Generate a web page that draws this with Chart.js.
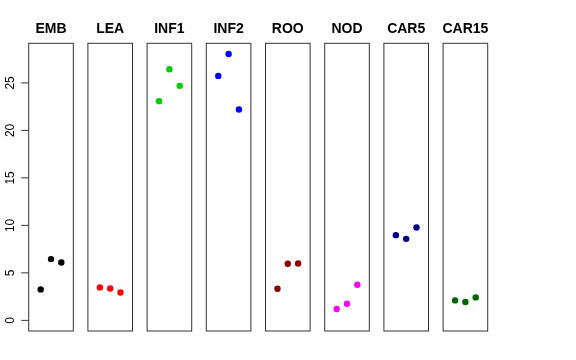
<!DOCTYPE html>
<html>
<head>
<meta charset="utf-8">
<script src="https://cdn.jsdelivr.net/npm/chart.js@4"></script>
<style>
  body { margin: 0; background: #fff; }
  #wrap { position: relative; width: 576px; height: 360px; overflow: hidden; }
  .panel { position: absolute; top: 0; height: 360px; }
</style>
</head>
<body>
<div id="wrap"></div>
<script>
const panelNames = ['EMB', 'LEA', 'INF1', 'INF2', 'ROO', 'NOD', 'CAR5', 'CAR15'];
const panelColors = ['#000000', '#FF0000', '#00CD00', '#0000FF', '#8B0000', '#FF00FF', '#00008B', '#006400'];
const replicates = [1, 2, 3];
const embValues = [3.26, 6.45, 6.09];
const leaValues = [3.47, 3.36, 2.94];
const inf1Values = [23.08, 26.44, 24.69];
const inf2Values = [25.74, 28.05, 22.2];
const rooValues = [3.33, 5.96, 5.99];
const nodValues = [1.2, 1.75, 3.75];
const car5Values = [8.97, 8.58, 9.77];
const car15Values = [2.1, 1.93, 2.42];
const yTicks = [0, 5, 10, 15, 20, 25];

const panelValues = [embValues, leaValues, inf1Values, inf2Values, rooValues, nodValues, car5Values, car15Values];

const firstLeft = 28.7;
const step = 59.2;
const boxWidth = 44.6;
const fontFamily = '"Liberation Sans", Arial, Helvetica, sans-serif';

// box, title and (for the first panel) the y axis
const panelDecor = {
    id: 'panelDecor',
    afterDraw(chart, args, opts) {
        const {ctx, chartArea} = chart;
        const yScale = chart.scales.y;
        ctx.save();
        ctx.strokeStyle = '#333';
        ctx.lineWidth = 1;
        ctx.strokeRect(chartArea.left, chartArea.top, chartArea.right - chartArea.left, chartArea.bottom - chartArea.top);

        ctx.fillStyle = '#000';
        ctx.font = 'bold 14px ' + fontFamily;
        ctx.textAlign = 'center';
        ctx.textBaseline = 'middle';
        ctx.fillText(opts.title, (chartArea.left + chartArea.right) / 2, 29);

        if (opts.showAxis) {
            ctx.font = '12px ' + fontFamily;
            ctx.textBaseline = 'alphabetic';
            yTicks.forEach(v => {
                const py = yScale.getPixelForValue(v);
                ctx.beginPath();
                ctx.moveTo(chartArea.left - 7.5, py);
                ctx.lineTo(chartArea.left, py);
                ctx.stroke();
                ctx.save();
                ctx.translate(chartArea.left - 15.2, py);
                ctx.rotate(-Math.PI / 2);
                ctx.fillText(String(v), 0, 0);
                ctx.restore();
            });
        }
        ctx.restore();
    }
};

const wrap = document.querySelector('#wrap');
panelNames.forEach((name, i) => {
    const boxLeft = firstLeft + i * step;
    const canvasLeft = i === 0 ? 0 : Math.floor(boxLeft) - 8;
    const canvasWidth = Math.ceil(boxLeft + boxWidth + 8) - canvasLeft;
    const padLeft = boxLeft - canvasLeft;
    const padRight = canvasWidth - padLeft - boxWidth;

    const div = document.createElement('div');
    div.className = 'panel';
    div.style.left = canvasLeft + 'px';
    div.style.width = canvasWidth + 'px';
    const canvas = document.createElement('canvas');
    div.appendChild(canvas);
    wrap.appendChild(div);

    new Chart(canvas, {
        type: 'scatter',
        data: {
            datasets: [{
                data: replicates.map((r, j) => ({x: r, y: panelValues[i][j]})),
                pointRadius: 3.2,
                pointHoverRadius: 3.2,
                pointBackgroundColor: panelColors[i],
                pointBorderWidth: 0,
                borderColor: panelColors[i]
            }]
        },
        options: {
            responsive: true,
            maintainAspectRatio: false,
            animation: false,
            events: [],
            layout: {padding: {left: padLeft, right: padRight, top: 43.3, bottom: 29}},
            scales: {
                x: {type: 'linear', min: -0.16, max: 4.16, display: false},
                y: {type: 'linear', min: -1.12, max: 29.17, display: false}
            },
            plugins: {
                legend: {display: false},
                tooltip: {enabled: false},
                panelDecor: {title: name, showAxis: i === 0}
            }
        },
        plugins: [panelDecor]
    });
});
</script>
</body>
</html>
